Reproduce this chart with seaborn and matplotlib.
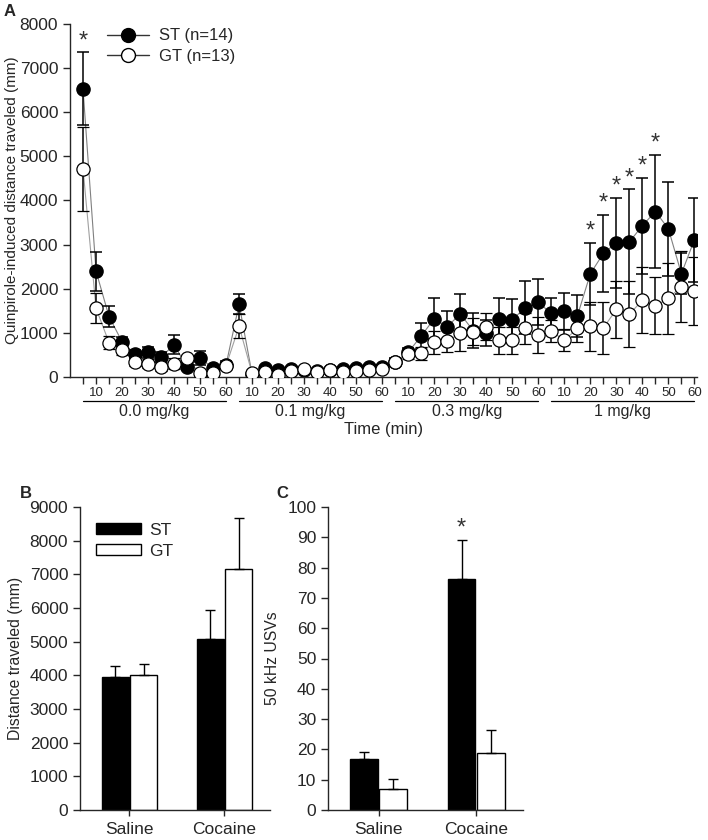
import numpy as np
import pandas as pd
import matplotlib
matplotlib.use("Agg")
import matplotlib.pyplot as plt
import matplotlib.transforms as mtransforms
from matplotlib.lines import Line2D
from matplotlib.patches import Patch
import seaborn as sns

# Panel A: quinpirole sessions, 12 five-minute bins per dose
doses = ['0.0 mg/kg', '0.1 mg/kg', '0.3 mg/kg', '1 mg/kg']
bin_minutes = [5, 10, 15, 20, 25, 30, 35, 40, 45, 50, 55, 60]

st_mean = [6530, 2400, 1370, 800, 520, 560, 450, 730, 230, 430, 200, 280,
           1650, 60, 200, 150, 180, 150, 130, 150, 180, 200, 220, 230,
           340, 560, 930, 1320, 1140, 1430, 1050, 1000, 1320, 1300, 1570, 1690,
           1440, 1490, 1380, 2340, 2800, 3040, 3060, 3430, 3750, 3360, 2340, 3110]
st_sem = [830, 440, 230, 100, 100, 130, 120, 220, 80, 150, 60, 80,
          230, 40, 50, 50, 50, 50, 40, 50, 50, 50, 50, 50,
          80, 100, 300, 460, 360, 440, 400, 300, 460, 460, 600, 520,
          350, 420, 470, 700, 880, 1020, 1190, 1090, 1290, 1060, 470, 950]
gt_mean = [4720, 1560, 780, 620, 350, 300, 230, 300, 420, 80, 100, 260,
           1150, 80, 120, 50, 130, 180, 120, 160, 120, 130, 160, 190,
           350, 510, 540, 790, 810, 1000, 1030, 1140, 830, 830, 1100, 950,
           1040, 830, 1100, 1150, 1110, 1530, 1420, 1740, 1620, 1780, 2050, 1940]
gt_sem = [950, 340, 150, 130, 100, 100, 100, 120, 80, 60, 50, 80,
          270, 30, 40, 40, 40, 40, 40, 40, 40, 40, 40, 40,
          80, 100, 150, 260, 250, 420, 300, 300, 300, 300, 350, 410,
          250, 250, 300, 550, 600, 650, 750, 750, 650, 800, 800, 770]
sig_bins = [1, 40, 41, 42, 43, 44, 45]

# Panels B and C: cocaine challenge
conditions = ['Saline', 'Cocaine']
groups = ['ST', 'GT']
dist_st = [3950, 5080]
dist_st_sem = [330, 850]
dist_gt = [4020, 7150]
dist_gt_sem = [310, 1510]
usv_st = [16.8, 76.2]
usv_st_sem = [2.3, 12.9]
usv_gt = [7.0, 18.9]
usv_gt_sem = [3.2, 7.5]

sns.set_style("ticks")
plt.rcParams['font.family'] = ['Liberation Sans', 'DejaVu Sans']
plt.rcParams['axes.linewidth'] = 1.0
plt.rcParams['xtick.direction'] = 'out'
plt.rcParams['ytick.direction'] = 'out'

W, H = 708, 840
fig = plt.figure(figsize=(W / 100, H / 100), dpi=100)

def px_axes(l, t, r, b):
    return fig.add_axes([l / W, 1 - b / H, (r - l) / W, (b - t) / H])

axA = px_axes(70, 24, 697, 377)
axB = px_axes(80, 507, 270, 810)
axC = px_axes(328, 507, 523, 810)

# ---- Panel A
n_bins = len(st_mean)
idx = np.arange(1, n_bins + 1)
dfA = pd.DataFrame({'bin': np.concatenate([idx, idx]),
                    'dist': st_mean + gt_mean,
                    'group': ['ST'] * n_bins + ['GT'] * n_bins})
sns.lineplot(data=dfA, x='bin', y='dist', hue='group', palette={'ST': '#808080', 'GT': '#a0a0a0'},
             linewidth=0.8, legend=False, ax=axA, zorder=1)
axA.errorbar(idx, st_mean, yerr=st_sem, fmt='o', ms=9.5, mfc='black', mec='black',
             ecolor='black', elinewidth=1.1, capsize=4.5, capthick=1.1, zorder=2)
axA.errorbar(idx, gt_mean, yerr=gt_sem, fmt='o', ms=9.5, mfc='white', mec='black', mew=0.9,
             ecolor='black', elinewidth=1.1, capsize=4.5, capthick=1.1, zorder=3)
for b in sig_bins:
    axA.annotate('*', (b, st_mean[b - 1] + st_sem[b - 1]), xytext=(0, 0),
                 textcoords='offset points', ha='center', va='bottom',
                 fontsize=17, color='#333333')

axA.set_xlim(0, 48.2)
axA.set_ylim(0, 8000)
axA.set_yticks(np.arange(0, 8001, 1000))
axA.set_xticks(idx)
xlabels = [str(bin_minutes[(i - 1) % 12]) if bin_minutes[(i - 1) % 12] % 10 == 0 else '' for i in idx]
axA.set_xticklabels(xlabels, fontsize=9.5)
axA.tick_params(axis='y', labelsize=12.5, length=5, width=1)
axA.tick_params(axis='x', length=5, width=1, pad=2)
axA.set_xlabel('')
axA.set_ylabel('Quinpirole-induced distance traveled (mm)', fontsize=11)
axA.yaxis.set_label_coords(-0.081, 0.5)
sns.despine(ax=axA)

trans = mtransforms.blended_transform_factory(axA.transData, axA.transAxes)
for s, dose in enumerate(doses):
    x0, x1 = s * 12 + 1, s * 12 + 12
    axA.plot([x0, x1], [-0.068, -0.068], color='black', lw=0.9, transform=trans, clip_on=False)
    axA.text((x0 + x1) / 2, -0.099, dose, transform=trans, ha='center', va='center', fontsize=11.5)
axA.text(0.5, -0.150, 'Time (min)', transform=axA.transAxes, ha='center', va='center', fontsize=12)

handlesA = [Line2D([], [], color='#333333', lw=1, marker='o', ms=10, mfc='black', mec='black'),
            Line2D([], [], color='#333333', lw=1, marker='o', ms=10, mfc='white', mec='black')]
axA.legend(handlesA, ['ST (n=14)', 'GT (n=13)'], loc='upper left', bbox_to_anchor=(0.035, 1.03),
           frameon=False, fontsize=12, handlelength=2.5, handletextpad=0.6, labelspacing=0.35)
fig.text(4 / W, 1 - 11 / H, 'A', fontsize=12, fontweight='bold', va='center')

# ---- Panels B and C
def bar_panel(ax, st, st_e, gt, gt_e, ylim, step, ylabel):
    df = pd.DataFrame({'Condition': conditions * 2,
                       'value': st + gt,
                       'Group': ['ST'] * 2 + ['GT'] * 2})
    sns.barplot(data=df, x='Condition', y='value', hue='Group', hue_order=groups,
                palette={'ST': 'black', 'GT': 'white'}, edgecolor='black', linewidth=1,
                width=0.6, gap=0.05, errorbar=None, ax=ax)
    for cont, errs in zip(ax.containers, [st_e, gt_e]):
        xs = [p.get_x() + p.get_width() / 2 for p in cont]
        hs = [p.get_height() for p in cont]
        ax.errorbar(xs, hs, yerr=[[0] * len(errs), errs], fmt='none', ecolor='black',
                    elinewidth=1, capsize=3.5, capthick=1)
    ax.set_ylim(*ylim)
    ax.set_yticks(np.arange(ylim[0], ylim[1] + 1, step))
    ax.set_xlim(-0.52, 1.48)
    ax.set_xlabel('')
    ax.set_ylabel(ylabel, fontsize=11.3, labelpad=5)
    ax.tick_params(axis='y', labelsize=12.5, length=5, width=1)
    ax.tick_params(axis='x', labelsize=12.5, length=4, width=1, pad=5)
    sns.despine(ax=ax)
    leg = ax.get_legend()
    if leg is not None:
        leg.remove()

bar_panel(axB, dist_st, dist_st_sem, dist_gt, dist_gt_sem, (0, 9000), 1000, 'Distance traveled (mm)')
bar_panel(axC, usv_st, usv_st_sem, usv_gt, usv_gt_sem, (0, 100), 10, '50 kHz USVs')

handlesB = [Patch(facecolor='black', edgecolor='black'), Patch(facecolor='white', edgecolor='black')]
axB.legend(handlesB, groups, loc='upper left', bbox_to_anchor=(0.0, 1.0), frameon=False,
           fontsize=12.5, handlelength=2.6, handleheight=0.55, handletextpad=0.5, labelspacing=0.35)

cst = axC.containers[0][1]
axC.annotate('*', (cst.get_x() + cst.get_width() / 2, usv_st[1] + usv_st_sem[1]), xytext=(0, 0),
             textcoords='offset points', ha='center', va='bottom', fontsize=17, color='#333333')

fig.text(20 / W, 1 - 493 / H, 'B', fontsize=12, fontweight='bold', va='center')
fig.text(276 / W, 1 - 493 / H, 'C', fontsize=12, fontweight='bold', va='center')

fig.savefig('out.png', dpi=100)
